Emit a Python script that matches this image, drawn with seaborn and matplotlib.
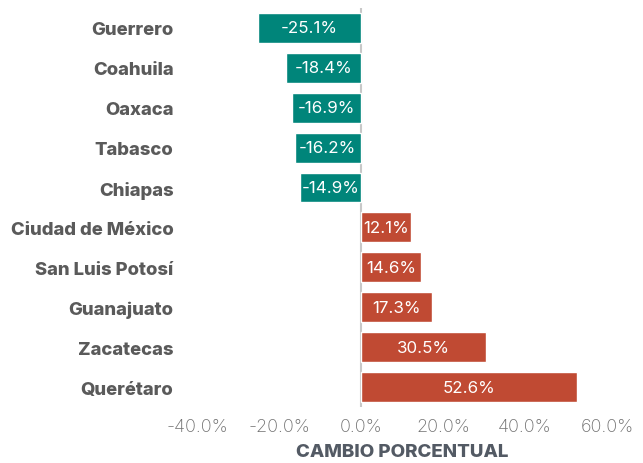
import matplotlib
matplotlib.use("Agg")
import matplotlib.pyplot as plt
import seaborn as sns
import pandas as pd

estados = ["Guerrero", "Coahuila", "Oaxaca", "Tabasco", "Chiapas",
           "Ciudad de México", "San Luis Potosí", "Guanajuato", "Zacatecas", "Querétaro"]
cambio = [-25.1, -18.4, -16.9, -16.2, -14.9, 12.1, 14.6, 17.3, 30.5, 52.6]
ticks = [-40, -20, 0, 20, 40, 60]

TEAL = "#00857A"
RED = "#C04A33"

df = pd.DataFrame({"estado": estados, "cambio": cambio})
df["signo"] = ["neg" if v < 0 else "pos" for v in df["cambio"]]

sns.set_theme(style="white")
plt.rcParams["font.family"] = ["Inter", "DejaVu Sans"]

fig = plt.figure(figsize=(6.43, 4.64), dpi=100)
ax = fig.add_axes([0.3064, 0.1207, 0.6376, 0.86])

sns.barplot(data=df, x="cambio", y="estado", hue="signo",
            palette={"neg": TEAL, "pos": RED}, dodge=False,
            width=0.75, legend=False, ax=ax, saturation=1)

# value labels centred inside each bar
for i, v in enumerate(cambio):
    ax.text(v / 2, i, f"{v:.1f}%", ha="center", va="center",
            color="white", fontsize=12.2, fontweight="normal")

ax.axvline(0, color="#c8c8c8", lw=1.5, zorder=0.5)
ax.set_xlim(-40, 60)
ax.set_ylim(len(estados) - 0.5, -0.5)
ax.set_xticks(ticks)
ax.set_xticklabels([f"{t:.1f}%" for t in ticks], fontsize=13,
                   color="#707070", fontweight="light")
ax.set_yticks(range(len(estados)))
ax.set_yticklabels(estados, fontsize=13.3, fontweight="heavy", color="#5a5a5a")
ax.tick_params(axis="y", length=0, pad=17)
ax.tick_params(axis="x", length=0, pad=8)
ax.set_ylabel("")
ax.set_xlabel("CAMBIO PORCENTUAL", fontsize=13.5, fontweight="heavy",
              color="#535a64", labelpad=6)
for s in ax.spines.values():
    s.set_visible(False)

fig.savefig("out.png", dpi=100)
